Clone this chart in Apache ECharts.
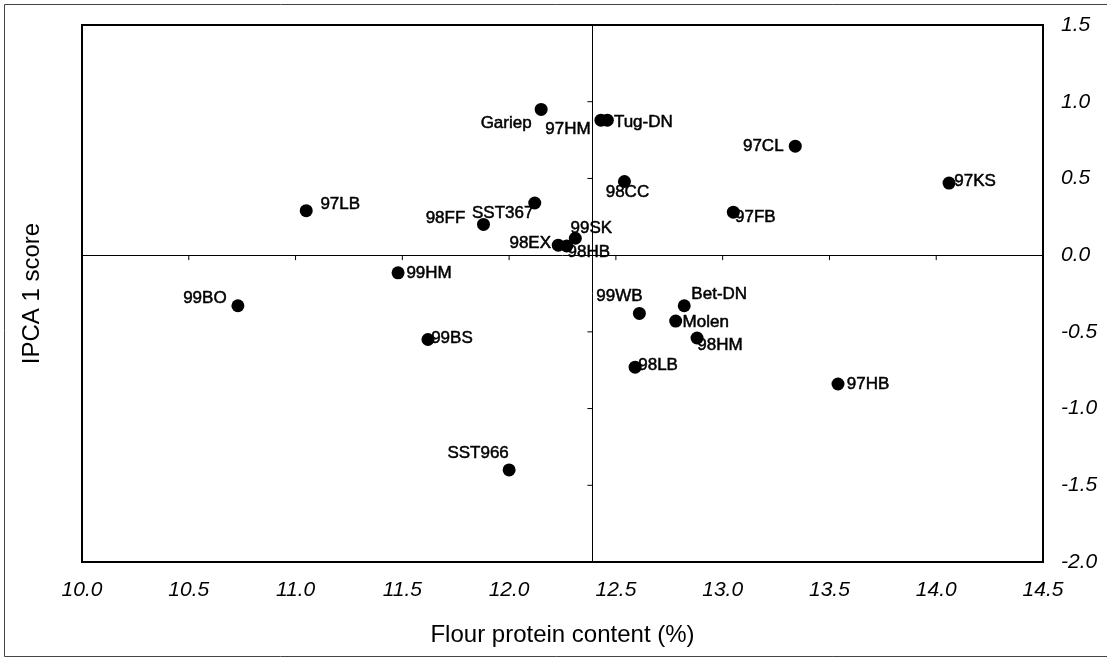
<!DOCTYPE html>
<html>
<head>
<meta charset="utf-8">
<title>IPCA 1 score vs flour protein content</title>
<script src="https://cdn.jsdelivr.net/npm/echarts@6/dist/echarts.min.js"></script>
<style>
  html, body { margin: 0; padding: 0; background: #fff; }
  #chart { width: 1107px; height: 659px; }
</style>
</head>
<body>
<div id="chart"></div>
<script>
// cultivar / season codes
const names = [
  "Gariep", "97HM", "Tug-DN", "98CC", "SST367", "98FF", "99SK", "98EX", "98HB",
  "97LB", "99HM", "99BO", "99BS", "99WB", "Bet-DN", "Molen", "98HM", "98LB",
  "97CL", "97KS", "97FB", "97HB", "SST966"
]
const protein = [
  12.15, 12.43, 12.46, 12.54, 12.12, 11.88, 12.31, 12.23, 12.27,
  11.05, 11.48, 10.73, 11.62, 12.61, 12.82, 12.78, 12.88, 12.59,
  13.34, 14.06, 13.05, 13.54, 12.00
]
const ipca1 = [
  0.95, 0.88, 0.88, 0.48, 0.34, 0.20, 0.11, 0.065, 0.06,
  0.29, -0.115, -0.33, -0.55, -0.38, -0.33, -0.43, -0.54, -0.73,
  0.71, 0.47, 0.28, -0.84, -1.40
]

// quadrant split: mean protein and zero IPCA score
const meanProtein = 12.39
const hLineTicks = [10.5, 11.0, 11.5, 12.0, 12.5, 13.0, 13.5, 14.0]
const vLineTicks = [1.0, 0.5, -0.5, -1.0, -1.5]

// where each label sits relative to its dot (px, centre to centre)
const labelOffset = {
  "Gariep": [-35, 14], "97HM": [-33, 9], "Tug-DN": [36, 2], "98CC": [3, 11],
  "SST367": [-32, 10], "98FF": [-38, -6], "99SK": [16, -10], "98EX": [-28, -2],
  "98HB": [22, 6], "97LB": [34, -6], "99HM": [31, 1], "99BO": [-33, -7],
  "99BS": [24, -1], "99WB": [-20, -17], "Bet-DN": [35, -11], "Molen": [30, 1],
  "98HM": [23, 7], "98LB": [23, -2], "97CL": [-32, 0], "97KS": [26, -2],
  "97FB": [22, 5], "97HB": [30, 0], "SST966": [-31, -17]
}

const font = "'Liberation Sans', Arial, sans-serif"
const points = names.map((n, i) => ({
  name: n,
  value: [protein[i], ipca1[i]],
  label: { offset: labelOffset[n] }
}))

const chart = echarts.init(document.getElementById("chart"))
chart.setOption({
  animation: false,
  backgroundColor: "#fff",
  grid: { left: 82, right: 64, top: 25, bottom: 97, show: true, borderColor: "#000", borderWidth: 2 },
  graphic: [{
    type: "rect", silent: true,
    shape: { x: 4.5, y: 4.5, width: 1110, height: 652 },
    style: { fill: "none", stroke: "#444", lineWidth: 1 }
  }],
  xAxis: {
    type: "value", min: 10, max: 14.5, interval: 0.5,
    name: "Flour protein content (%)", nameLocation: "middle", nameGap: 61,
    nameTextStyle: { fontFamily: font, fontSize: 24, color: "#000" },
    axisLine: { show: false }, axisTick: { show: false }, splitLine: { show: false },
    axisLabel: {
      margin: 18, fontFamily: font, fontSize: 21, fontStyle: "italic", color: "#000",
      formatter: (v) => v.toFixed(1)
    }
  },
  yAxis: [
    {
      type: "value", position: "right", min: -2, max: 1.5, interval: 0.5,
      axisLine: { show: false }, axisTick: { show: false }, splitLine: { show: false },
      axisLabel: {
        margin: 18, fontFamily: font, fontSize: 21, fontStyle: "italic", color: "#000",
        formatter: (v) => v.toFixed(1)
      }
    },
    {
      type: "value", position: "left", min: -2, max: 1.5,
      name: "IPCA 1 score", nameLocation: "middle", nameGap: 38,
      nameTextStyle: { fontFamily: font, fontSize: 24, color: "#000" },
      axisLine: { show: false }, axisTick: { show: false },
      axisLabel: { show: false }, splitLine: { show: false }
    }
  ],
  series: [
    {
      type: "scatter",
      data: points,
      symbolSize: 13,
      itemStyle: { color: "#000", opacity: 1 },
      label: {
        show: true, position: "inside", formatter: "{b}",
        fontFamily: font, fontSize: 17, color: "#000",
        textBorderColor: "#000", textBorderWidth: 0.5
      },
      markLine: {
        silent: true, symbol: "none", animation: false,
        label: { show: false },
        lineStyle: { color: "#000", type: "solid", width: 1 },
        data: [{ yAxis: 0 }, { xAxis: meanProtein }]
      }
    },
    {
      type: "custom",
      silent: true,
      data: hLineTicks.map((v) => [v, 0, 0]).concat(vLineTicks.map((v) => [meanProtein, v, 1])),
      renderItem: (params, api) => {
        const p = api.coord([api.value(0), api.value(1)])
        const onVertical = api.value(2) === 1
        return {
          type: "line",
          shape: onVertical
            ? { x1: p[0] - 5, y1: p[1], x2: p[0], y2: p[1] }
            : { x1: p[0], y1: p[1], x2: p[0], y2: p[1] + 5 },
          style: { stroke: "#000", lineWidth: 1 }
        }
      }
    }
  ]
})
</script>
</body>
</html>
